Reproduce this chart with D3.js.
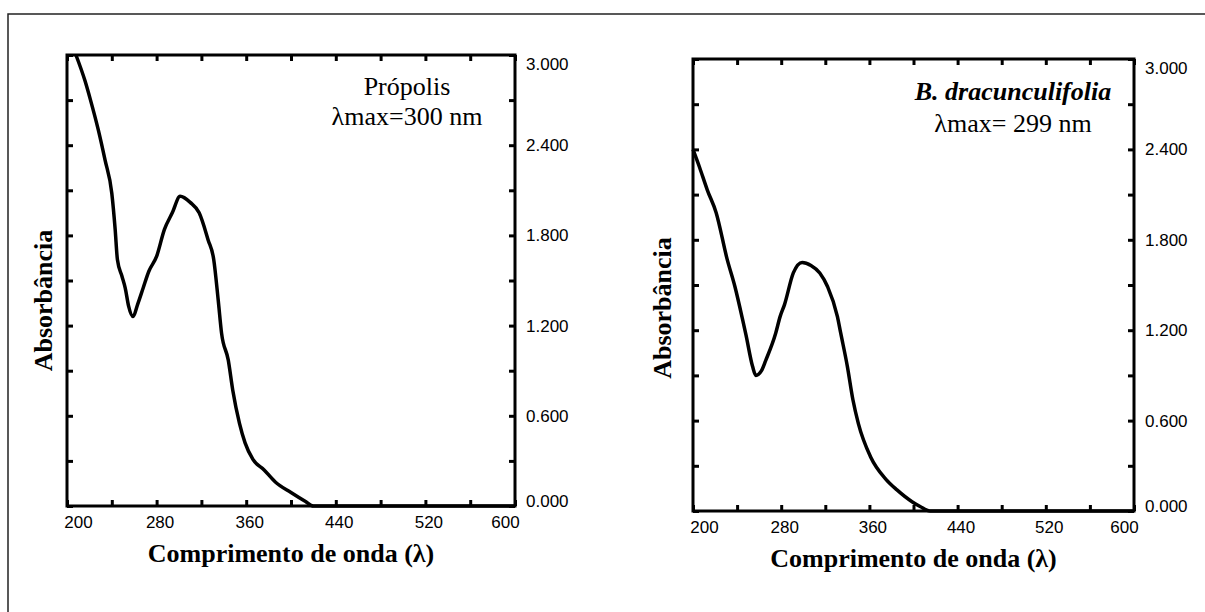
<!DOCTYPE html>
<html>
<head>
<meta charset="utf-8">
<script src="https://cdn.jsdelivr.net/npm/d3@7"></script>
<style>
body { margin: 0; background: #fff; }
.tick text { font-family: "Liberation Sans", Arial, sans-serif; font-size: 17px; fill: #000; }
.serif { font-family: "Liberation Serif", "Times New Roman", serif; fill: #000; }
</style>
</head>
<body>
<script>
// spectra
let propolisNm  = [208,216,221,228,234,240,243,245,249,252,255,259,263,268,273,280,287,294,301,310,318,326,331,335,338,344,348,354,359,366,376,386,400,413,420,600];
let propolisAbs = [3.00,2.83,2.70,2.50,2.30,2.08,1.84,1.64,1.53,1.45,1.33,1.26,1.34,1.45,1.56,1.66,1.84,1.95,2.06,2.02,1.95,1.77,1.64,1.37,1.15,0.97,0.77,0.55,0.42,0.31,0.24,0.16,0.09,0.03,0.00,0.00];

let bdNm  = [200,206,213,221,231,238,245,248,254,257,262,266,275,279,283,291,299,307,315,322,331,334,340,345,350,361,375,385,399,406,415,600];
let bdAbs = [2.40,2.28,2.13,1.98,1.67,1.49,1.27,1.17,0.96,0.90,0.93,1.00,1.18,1.29,1.37,1.58,1.65,1.63,1.58,1.49,1.29,1.18,0.96,0.74,0.58,0.36,0.21,0.14,0.06,0.03,0.00,0.00];

let xTickMinor = [200,240,280,320,360,400,440,480,520,560,600];
let xTickLabels = [200,280,360,440,520,600];
let yTickMinor = [0,0.3,0.6,0.9,1.2,1.5,1.8,2.1,2.4,2.7,3.0];
let yTickLabels = [0,0.6,1.2,1.8,2.4,3.0];

let svg = d3.select("body")
    .append("svg")
    .attr("width", 1205)
    .attr("height", 612);

// outer frame of the figure (only top and left edges are in view)
svg.append("path")
    .attr("d", "M8,612V14H1205")
    .attr("fill", "none")
    .attr("stroke", "#222")
    .attr("stroke-width", 1.5);

function drawPanel(p) {
    let x = d3.scaleLinear().domain([200, 600]).range([p.left, p.right]);
    let y = d3.scaleLinear().domain([0, 3]).range([p.bottom, p.top]);
    let g = svg.append("g");

    let tickAxes = [
        [d3.axisBottom(x).tickValues(xTickMinor), `translate(0,${p.bottom})`],
        [d3.axisTop(x).tickValues(xTickMinor), `translate(0,${p.top})`],
        [d3.axisLeft(y).tickValues(yTickMinor), `translate(${p.left},0)`],
        [d3.axisRight(y).tickValues(yTickMinor), `translate(${p.right},0)`]
    ];
    tickAxes.forEach(([ax, tr]) => {
        g.append("g")
            .attr("transform", tr)
            .call(ax.tickSize(-6).tickSizeOuter(0).tickFormat(""))
            .call(s => s.select(".domain").remove())
            .selectAll("line")
            .attr("stroke", "#000")
            .attr("stroke-width", 3);
    });

    g.append("rect")
        .attr("x", p.left).attr("y", p.top)
        .attr("width", p.right - p.left).attr("height", p.bottom - p.top)
        .attr("fill", "none")
        .attr("stroke", "#000")
        .attr("stroke-width", 3);

    // x labels
    g.append("g")
        .attr("transform", `translate(0,${p.bottom})`)
        .call(d3.axisBottom(x).tickValues(xTickLabels).tickSize(0).tickPadding(10))
        .call(s => s.select(".domain").remove())
        .selectAll(".tick text")
        .attr("dx", d => d === 200 ? 11 : d === 600 ? -10 : 3);

    // y labels on the right side
    g.append("g")
        .attr("transform", `translate(${p.right},0)`)
        .call(d3.axisRight(y).tickValues(yTickLabels).tickSize(0).tickPadding(11)
            .tickFormat(d3.format(".3f")))
        .call(s => s.select(".domain").remove())
        .selectAll(".tick text")
        .attr("dy", d => d === 3 ? "0.85em" : d === 0 ? "0.03em" : "0.32em");

    let line = d3.line()
        .x(d => x(d[0]))
        .y(d => y(d[1]))
        .curve(d3.curveMonotoneX);

    g.append("path")
        .attr("d", line(d3.zip(p.nm, p.abs)))
        .attr("fill", "none")
        .attr("stroke", "#000")
        .attr("stroke-width", 3.5)
        .attr("stroke-linejoin", "round");

    g.append("text")
        .attr("class", "serif")
        .attr("x", (p.left + p.right) / 2)
        .attr("y", p.bottom + p.xTitleGap)
        .attr("text-anchor", "middle")
        .attr("font-size", 26)
        .attr("font-weight", "bold")
        .text("Comprimento de onda (λ)");

    g.append("text")
        .attr("class", "serif")
        .attr("transform", `translate(${p.left - p.yTitleGap},${(p.top + p.bottom) / 2 + p.yTitleShift}) rotate(-90)`)
        .attr("text-anchor", "middle")
        .attr("font-size", 26)
        .attr("font-weight", "bold")
        .text("Absorbância");

    let note = g.append("text")
        .attr("class", "serif")
        .attr("text-anchor", "middle")
        .attr("font-size", 26);
    note.append("tspan")
        .attr("x", p.right - p.noteRight)
        .attr("y", p.top + p.note1)
        .attr("font-weight", p.nameBold ? "bold" : "normal")
        .attr("font-style", p.nameBold ? "italic" : "normal")
        .text(p.name);
    note.append("tspan")
        .attr("x", p.right - p.noteRight)
        .attr("y", p.top + p.note2)
        .text(p.peak);
}

drawPanel({
    left: 67, right: 515, top: 55, bottom: 506,
    nm: propolisNm, abs: propolisAbs,
    xTitleGap: 56, yTitleGap: 15, yTitleShift: 20,
    name: "Própolis", nameBold: false, peak: "λmax=300 nm",
    noteRight: 108, note1: 40, note2: 70
});

drawPanel({
    left: 693, right: 1134, top: 59, bottom: 511,
    nm: bdNm, abs: bdAbs,
    xTitleGap: 56, yTitleGap: 22, yTitleShift: 23,
    name: "B. dracunculifolia", nameBold: true, peak: "λmax= 299 nm",
    noteRight: 121, note1: 41, note2: 73
});
</script>
</body>
</html>
